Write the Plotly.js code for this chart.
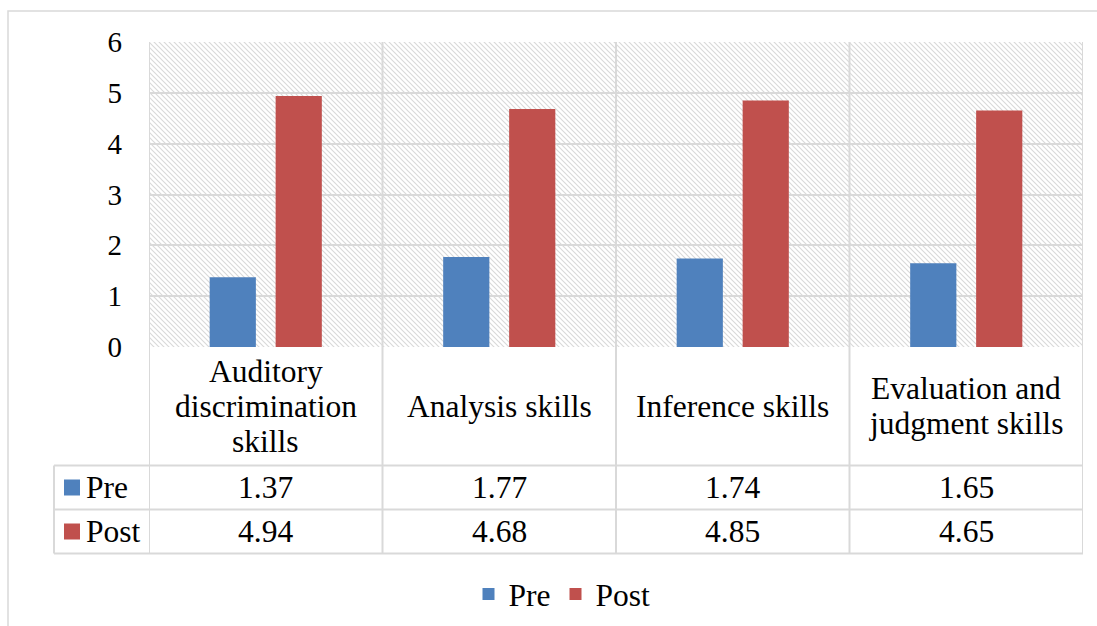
<!DOCTYPE html>
<html>
<head>
<meta charset="utf-8">
<script src="https://cdn.plot.ly/plotly-3.0.1.min.js"></script>
<style>
  html, body { margin: 0; padding: 0; background: #ffffff; }
  #chart { width: 1097px; height: 626px; }
</style>
</head>
<body>
<div id="chart"></div>
<script>
// ---- data ----
const categories = ['Auditory discrimination skills', 'Analysis skills', 'Inference skills', 'Evaluation and judgment skills'];
const categoryLines = [['Auditory', 'discrimination', 'skills'], ['Analysis skills'], ['Inference skills'], ['Evaluation and', 'judgment skills']];
const seriesNames = ['Pre', 'Post'];
const preValues = [1.37, 1.77, 1.74, 1.65];
const postValues = [4.94, 4.68, 4.85, 4.65];
const yTicks = [0, 1, 2, 3, 4, 5, 6];

// ---- style ----
const W = 1097, H = 626;
const M = { l: 149, r: 14, t: 42, b: 279, autoexpand: false };
const plotW = W - M.l - M.r, plotH = H - M.t - M.b;
const FONT = 'Liberation Serif';
const TEXT_SIZE = 31.5;
const GRID = '#d9d9d9';
const colors = ['#4F81BD', '#C0504D'];
const textFont = { family: FONT, size: TEXT_SIZE, color: '#000000' };

// pixel -> paper helpers for the data-table frame under the plot
const px = x => (x - M.l) / plotW;
const py = y => (M.t + plotH - y) / plotH;

// table row geometry (pixels)
const rowTop = 465.5, rowMid = 509.5, rowBot = 553.5, headLeft = 54;

// hatched plot background
const hatchSvg =
  '<svg xmlns="http://www.w3.org/2000/svg" width="' + plotW + '" height="' + plotH + '" viewBox="0 0 ' + plotW + ' ' + plotH + '" preserveAspectRatio="none">' +
  '<defs><pattern id="h" patternUnits="userSpaceOnUse" width="5" height="5">' +
  '<path d="M-1,-1 L6,6 M-1,4 L1,6 M4,-1 L6,1" stroke="#d9d9d9" stroke-width="1.15"/>' +
  '</pattern></defs><rect width="100%" height="100%" fill="#ffffff"/><rect width="100%" height="100%" fill="url(#h)"/></svg>';
const hatchUri = 'data:image/svg+xml;charset=utf-8,' + encodeURIComponent(hatchSvg);

const traces = [
  { type: 'bar', name: seriesNames[0], x: categories, y: preValues, marker: { color: colors[0] } },
  { type: 'bar', name: seriesNames[1], x: categories, y: postValues, marker: { color: colors[1] } }
];

// ---- table frame ----
const line = { color: GRID, width: 2 };
const shapes = [];
// outer chart border
shapes.push({ type: 'rect', xref: 'paper', yref: 'paper', x0: px(8), x1: px(1110), y0: py(11), y1: py(640),
  line: { color: '#d9d9d9', width: 1.5 }, fillcolor: 'rgba(0,0,0,0)', layer: 'below' });
// category boundaries, running through plot and table
for (let k = 0; k <= categories.length; k++) {
  shapes.push({ type: 'line', xref: 'x', yref: 'paper', x0: k - 0.5, x1: k - 0.5, y0: 1, y1: py(rowBot), line, layer: 'above' });
}
// row-header column edge
shapes.push({ type: 'line', xref: 'paper', yref: 'paper', x0: px(headLeft), x1: px(headLeft), y0: py(rowTop), y1: py(rowBot), line });
// horizontal table rules
[rowTop, rowMid, rowBot].forEach(r => {
  shapes.push({ type: 'line', xref: 'paper', yref: 'paper', x0: px(headLeft), x1: 1, y0: py(r), y1: py(r), line });
});
// legend keys in row headers
const rowCenters = [(rowTop + rowMid) / 2, (rowMid + rowBot) / 2];
rowCenters.forEach((c, i) => {
  shapes.push({ type: 'rect', xref: 'paper', yref: 'paper', x0: px(64), x1: px(80), y0: py(c - 8), y1: py(c + 8),
    fillcolor: colors[i], line: { width: 0 } });
});

// ---- table text ----
const annotations = [];
const labelCenter = (347 + rowTop) / 2, lineStep = 35;
categoryLines.forEach((lines, i) => {
  lines.forEach((t, j) => {
    annotations.push({ xref: 'x', yref: 'paper', x: categories[i], y: py(labelCenter + (j - (lines.length - 1) / 2) * lineStep),
      text: t, showarrow: false, xanchor: 'center', yanchor: 'middle', font: textFont });
  });
});
[preValues, postValues].forEach((vals, r) => {
  vals.forEach((v, i) => {
    annotations.push({ xref: 'x', yref: 'paper', x: categories[i], y: py(rowCenters[r]),
      text: v.toFixed(2), showarrow: false, xanchor: 'center', yanchor: 'middle', font: textFont });
  });
  annotations.push({ xref: 'paper', yref: 'paper', x: px(84), y: py(rowCenters[r]), text: seriesNames[r], showarrow: false,
    xanchor: 'left', yanchor: 'middle', font: textFont });
});

const layout = {
  width: W, height: H,
  margin: M,
  paper_bgcolor: '#ffffff',
  plot_bgcolor: 'rgba(0,0,0,0)',
  barmode: 'group',
  bargap: 0.435,
  bargroupgap: 0.3,
  xaxis: { type: 'category', range: [-0.5, categories.length - 0.5], showgrid: false, showticklabels: false,
    ticks: '', zeroline: false, showline: false, fixedrange: true },
  yaxis: { range: [0, 6], tickvals: yTicks, ticktext: yTicks.map(String), showgrid: true, gridcolor: GRID, gridwidth: 2,
    zeroline: false, showline: false, ticks: '', ticklabelstandoff: 26, tickfont: { family: FONT, size: 29, color: '#000000' } },
  images: [{ source: hatchUri, xref: 'paper', yref: 'paper', x: 0, y: 1, sizex: 1, sizey: 1,
    xanchor: 'left', yanchor: 'top', sizing: 'stretch', layer: 'below' }],
  showlegend: true,
  legend: { orientation: 'h', x: px(562), y: py(594), xanchor: 'center', yanchor: 'middle',
    font: textFont, bgcolor: 'rgba(0,0,0,0)', itemwidth: 30, traceorder: 'normal' },
  shapes, annotations
};

Plotly.newPlot('chart', traces, layout, { staticPlot: true, displayModeBar: false });
</script>
</body>
</html>
